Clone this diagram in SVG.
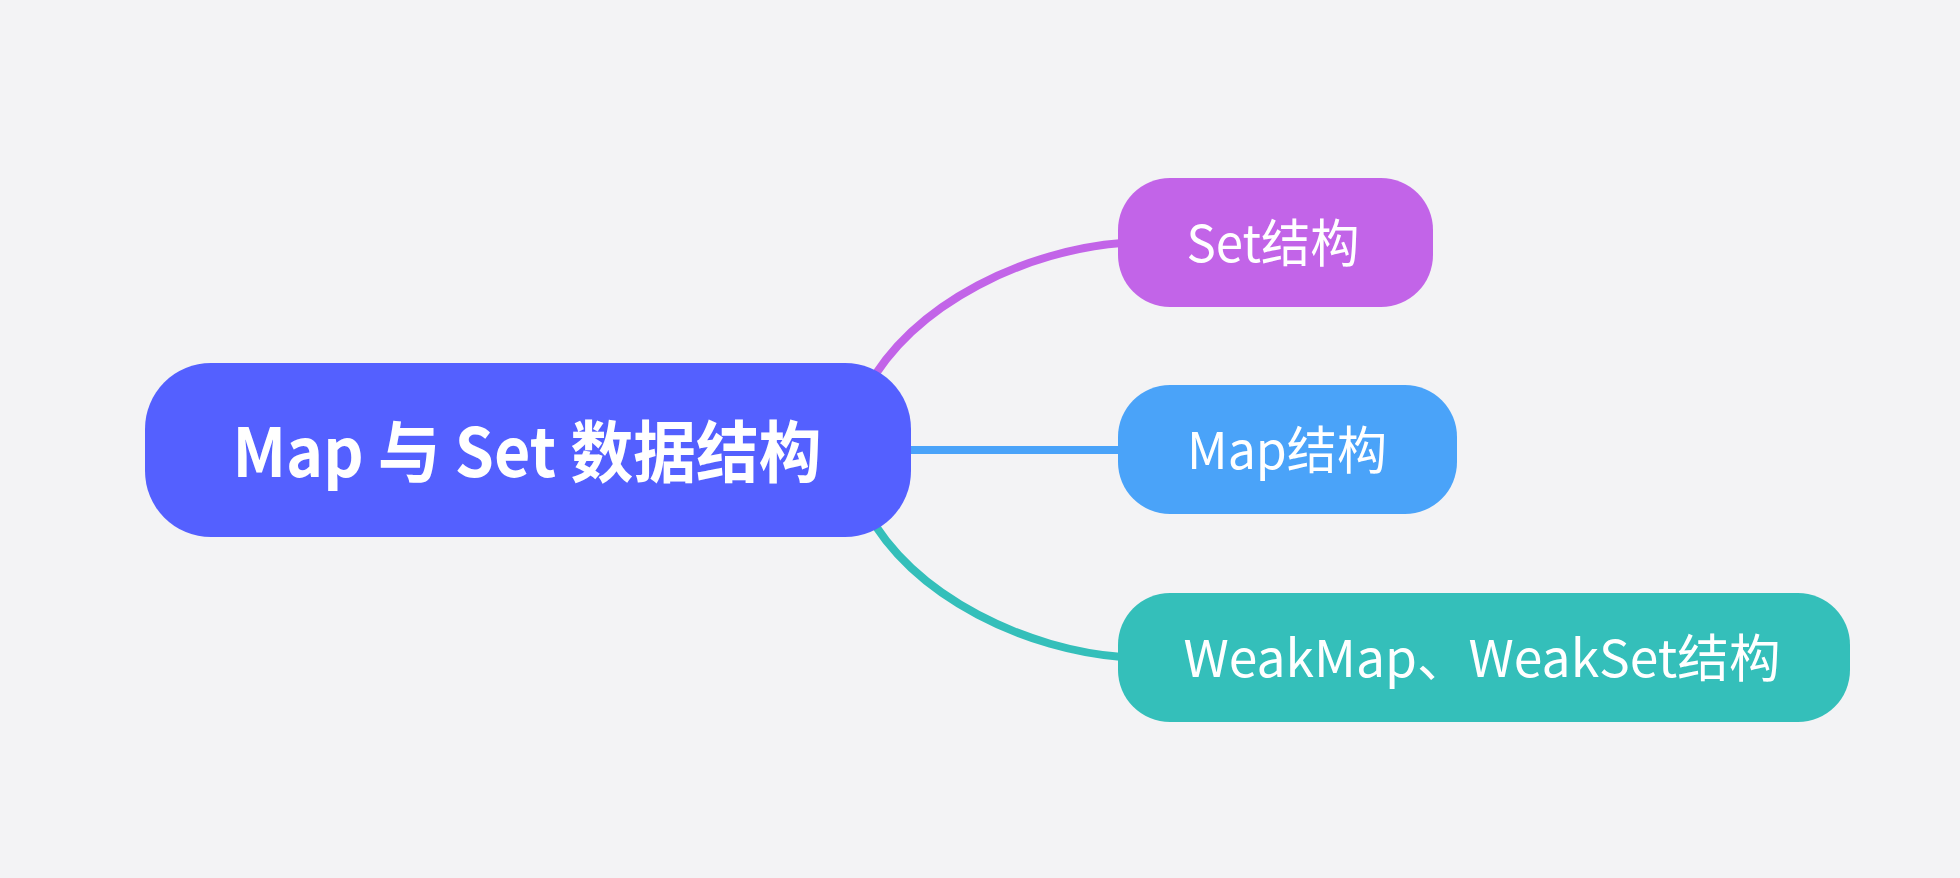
<svg xmlns="http://www.w3.org/2000/svg" width="1960" height="878" viewBox="0 0 1960 878">
  <style>
    .lbl { font-family: "Noto Sans CJK SC", "Noto Sans", sans-serif; fill: #ffffff; text-anchor: middle; }
    .root { font-size: 67px; font-weight: 700; }
    .sub { font-size: 51px; font-weight: 400; }
    .edge { fill: none; stroke-width: 8; stroke-linecap: round; }
  </style>
  <rect width="1960" height="878" fill="#f3f3f5"/>
  <g id="connectors">
    <path class="edge" d="M 866 390 C 915 300, 1030 250, 1122 243" stroke="#c264e8"/>
    <path class="edge" d="M 880 450 L 1122 450" stroke="#4aa3f9"/>
    <path class="edge" d="M 866 510 C 915 600, 1030 650, 1122 657" stroke="#34bfba"/>
  </g>
  <g id="root">
    <rect x="145" y="363" width="766" height="174" rx="66" ry="66" fill="#5460ff"/>
    <text class="lbl root" x="527" y="477" textLength="589" lengthAdjust="spacingAndGlyphs">Map 与 Set 数据结构</text>
  </g>
  <g id="node-set">
    <rect x="1118" y="178" width="315" height="129" rx="52" ry="52" fill="#c264e8"/>
    <text class="lbl sub" x="1273" y="262" textLength="173" lengthAdjust="spacingAndGlyphs">Set结构</text>
  </g>
  <g id="node-map">
    <rect x="1118" y="385" width="339" height="129" rx="52" ry="52" fill="#4aa3f9"/>
    <text class="lbl sub" x="1287" y="469" textLength="200" lengthAdjust="spacingAndGlyphs">Map结构</text>
  </g>
  <g id="node-weak">
    <rect x="1118" y="593" width="732" height="129" rx="52" ry="52" fill="#34bfba"/>
    <text class="lbl sub" x="1482" y="677" textLength="597" lengthAdjust="spacingAndGlyphs">WeakMap、WeakSet结构</text>
  </g>
</svg>
